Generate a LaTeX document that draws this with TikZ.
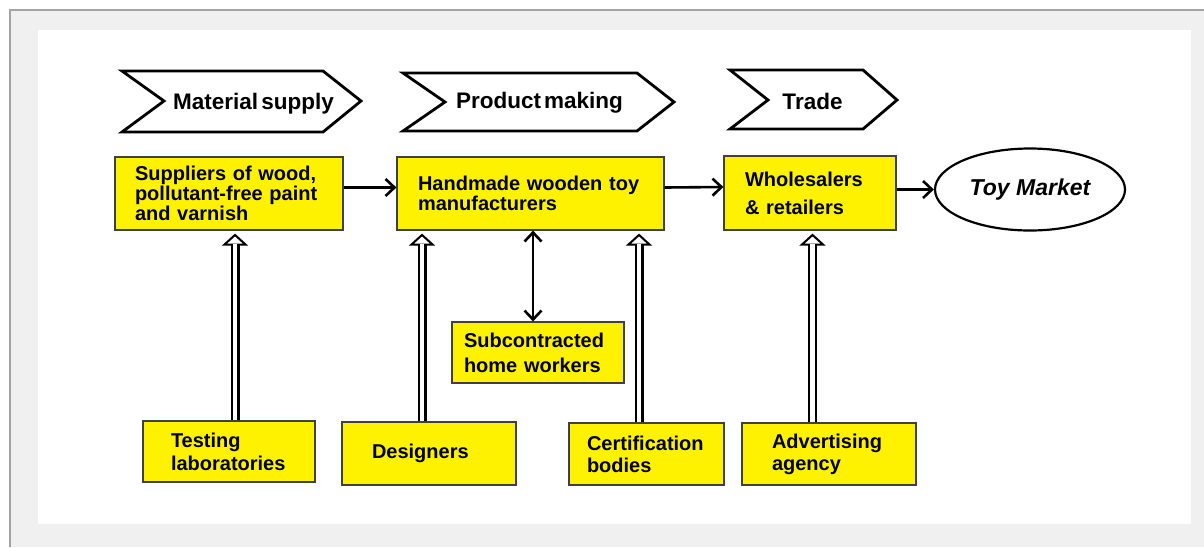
\documentclass[tikz,border=0pt]{standalone}
\usepackage{fontspec}
\setmainfont{Liberation Sans}
\newfontfamily\boxfamily{Liberation Sans}[WordSpace=1.8]
\newfontfamily\stagefamily{Liberation Sans}[WordSpace=0.5]
\usetikzlibrary{arrows.meta,shapes.geometric}

\definecolor{pagegray}{HTML}{F0F0F0}
\definecolor{framegray}{HTML}{A3A3A3}
\newcommand\boxfont[1][23]{\boxfamily\bfseries\fontsize{20}{#1}\selectfont}

\tikzset{
    stage/.style={line width=2.8pt, line join=miter},
    stagelabel/.style={anchor=base, font=\stagefamily\bfseries\fontsize{22.5}{26}\selectfont},
    box/.style={draw=black!75, line width=1.2pt, fill=yellow, align=left, inner ysep=0pt, font=\boxfont},
    flow/.style={line width=2.6pt, -{Straight Barb[length=9pt,width=17pt]}},
    dflow/.style={line width=2.6pt, {Straight Barb[length=9pt,width=17pt]}-{Straight Barb[length=9pt,width=17pt]}},
    hollow/.style={line width=2pt, -{Triangle[open, fill=white, length=12pt, width=26pt]},
        preaction={draw, line width=9pt, -, shorten >=11pt},
        postaction={draw=white, line width=4.5pt, -, shorten >=10pt}}
}

\begin{document}
\begin{tikzpicture}[x=1pt, y=-1pt]

    % page and frame
    \useasboundingbox (0,0) rectangle (1204,547);
    \fill[pagegray] (10,10) rectangle (1204,547);
    \draw[framegray, line width=2pt] (1204,10) -- (10,10) -- (10,547);
    \fill[white] (38,30) rectangle (1191,524);

    % stages
    \draw[stage] (122,71) -- (323,71) -- (361,101) -- (323,132) -- (122,132) -- (164,101) -- cycle;
    \draw[stage] (403,73) -- (637,73) -- (674,102) -- (637,131) -- (403,131) -- (445,102) -- cycle;
    \draw[stage] (730,70) -- (863,70) -- (897,100) -- (863,129) -- (730,129) -- (768,100) -- cycle;

    \node[stagelabel] (matl) at (253.5,109) {Material supply};
    \node[stagelabel] (prod) at (539.5,108) {Product making};
    \node[stagelabel] (trade) at (812.5,109) {Trade};

    % chain
    \node[box, minimum height=73pt, inner xsep=20pt, text width=188pt, font={\boxfont[20]}] (sup) at (229,193.5)
        {Suppliers of wood,\\pollutant-free paint\\and varnish};
    \node[box, minimum height=73pt, inner xsep=21pt, text width=225pt, font={\boxfont[20]}] (mfr) at (530.5,193.5)
        {Handmade wooden toy\\manufacturers};
    \node[box, minimum height=74pt, inner xsep=21pt, text width=130pt, font={\boxfont[28]}] (whl) at (810,193)
        {Wholesalers\\\& retailers};
    \node[ellipse, draw, line width=2.2pt, minimum width=190pt, minimum height=82pt,
        font=\bfseries\itshape\fontsize{23}{26}\selectfont] (toy) at (1030,189.5) {Toy Market};

    % supporting actors
    \node[box, minimum height=61pt, inner xsep=28pt, text width=116pt] (tst) at (229,451.5) {Testing\\laboratories};
    \node[box, minimum height=63pt, inner xsep=30pt, text width=114pt] (dsg) at (429,453.5) {Designers};
    \node[box, minimum height=61pt, inner xsep=12pt, text width=148pt, font={\boxfont[25]}] (sub) at (538,352.5)
        {Subcontracted\\home workers};
    \node[box, minimum height=62pt, inner xsep=18pt, text width=119pt, font={\boxfont[22]}] (crt) at (646.5,454)
        {Certification\\bodies};
    \node[box, minimum height=62pt, inner xsep=30pt, text width=114pt, font={\boxfont[22]}] (adv) at (829,454)
        {Advertising\\agency};

    \draw[flow] ([yshift=6pt]sup.east) -- ([yshift=6pt]mfr.west);
    \draw[flow] ([yshift=6pt]mfr.east) -- ([yshift=6pt]whl.west);
    \draw[flow] (whl.east |- toy.west) -- (toy.west);
    \draw[dflow] ([xshift=-5pt]sub.north) -- ([xshift=-5pt]sub.north |- mfr.south);

    \foreach \a/\b/\dx in {tst/sup/6, dsg/mfr/-7, crt/mfr/-7.5, adv/whl/-16.5}
        \draw[hollow] ([xshift=\dx pt]\a.north) -- ([xshift=\dx pt, yshift=-3pt]\a.north |- \b.south);

\end{tikzpicture}
\end{document}
